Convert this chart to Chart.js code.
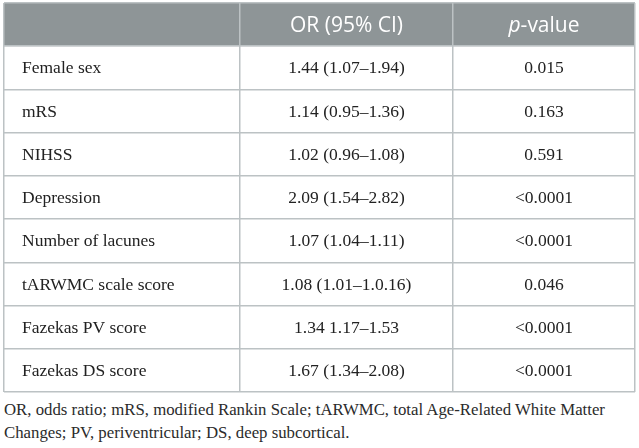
<!DOCTYPE html>
<html>
<head>
<meta charset="utf-8">
<script src="https://cdn.jsdelivr.net/npm/chart.js@4.4.0/dist/chart.umd.min.js"></script>
<style>
  html, body { margin: 0; padding: 0; background: #fff; }
  #wrap { position: relative; width: 639px; height: 396px; }
  #nota {
    position: absolute; left: 4px; top: 398px; width: 634px;
    font-family: "Liberation Serif", serif; font-size: 16.8px; line-height: 23px; color: #2b2b2b;
  }
</style>
</head>
<body>
<div id="wrap"><canvas id="tabela"></canvas></div>
<div id="nota">OR, odds ratio; mRS, modified Rankin Scale; tARWMC, total Age-Related White Matter Changes; PV, periventricular; DS, deep subcortical.</div>
<script>
// Dados da tabela
const cabecalhos = ["", "OR (95% CI)", "p-value"];
const variaveis = ["Female sex", "mRS", "NIHSS", "Depression", "Number of lacunes",
    "tARWMC scale score", "Fazekas PV score", "Fazekas DS score"];
const orIC = ["1.44 (1.07–1.94)", "1.14 (0.95–1.36)", "1.02 (0.96–1.08)", "2.09 (1.54–2.82)",
    "1.07 (1.04–1.11)", "1.08 (1.01–1.0.16)", "1.34 1.17–1.53", "1.67 (1.34–2.08)"];
const valoresP = ["0.015", "0.163", "0.591", "<0.0001", "<0.0001", "0.046", "<0.0001", "<0.0001"];

// Layout (larguras das colunas em px)
const bordasColunas = [0, 236, 449, 631];
const totalLinhas = variaveis.length + 1; // cabeçalho + linhas

const corCabecalho = "#8e9597";
const corGrade = "#bcc2c4";
const fonteCabecalho = "400 21px 'Open Sans', sans-serif";
const fonteCorpo = "17.5px 'Liberation Serif', serif";

const desenhaTabela = {
    id: "desenhaTabela",
    beforeDraw(chart) {
        const { ctx, chartArea, scales: { y } } = chart;
        ctx.save();
        ctx.fillStyle = corCabecalho;
        const topo = y.getPixelForValue(0);
        const base = y.getPixelForValue(1);
        ctx.fillRect(chartArea.left, topo, chartArea.right - chartArea.left, base - topo);
        ctx.restore();
    },
    afterDraw(chart) {
        const { ctx, scales: { x, y } } = chart;
        const centroColuna = i => (x.getPixelForValue(bordasColunas[i]) + x.getPixelForValue(bordasColunas[i + 1])) / 2;
        const centroLinha = r => y.getPixelForValue(r + 0.5);
        ctx.save();
        ctx.textBaseline = "middle";

        // Cabeçalho
        ctx.fillStyle = "#ffffff";
        ctx.font = fonteCabecalho;
        ctx.textAlign = "center";
        ctx.fillText(cabecalhos[1], centroColuna(1), centroLinha(0) + 1);
        // "p" em itálico + "-value"
        const parteItalica = cabecalhos[2].slice(0, 1);
        const resto = cabecalhos[2].slice(1);
        ctx.font = "italic " + fonteCabecalho;
        const larguraP = ctx.measureText(parteItalica).width;
        ctx.font = fonteCabecalho;
        const larguraResto = ctx.measureText(resto).width;
        const inicio = centroColuna(2) - (larguraP + larguraResto) / 2;
        ctx.textAlign = "left";
        ctx.font = "italic " + fonteCabecalho;
        ctx.fillText(parteItalica, inicio, centroLinha(0) + 1);
        ctx.font = fonteCabecalho;
        ctx.fillText(resto, inicio + larguraP, centroLinha(0) + 1);

        // Corpo
        ctx.fillStyle = "#222222";
        ctx.font = fonteCorpo;
        variaveis.forEach((nome, i) => {
            const yc = centroLinha(i + 1) + 1;
            ctx.textAlign = "left";
            ctx.fillText(nome, x.getPixelForValue(bordasColunas[0]) + 18, yc);
            ctx.textAlign = "center";
            ctx.fillText(orIC[i], centroColuna(1), yc);
            ctx.fillText(valoresP[i], centroColuna(2), yc);
        });
        ctx.restore();
    }
};

new Chart(document.getElementById("tabela"), {
    type: "scatter",
    data: { datasets: [{ data: [] }] },
    options: {
        responsive: true,
        maintainAspectRatio: false,
        animation: false,
        events: [],
        layout: { padding: { left: 4, right: 4, top: 3, bottom: 4 } },
        plugins: { legend: { display: false }, tooltip: { enabled: false } },
        scales: {
            x: {
                type: "linear",
                position: "top",
                min: bordasColunas[0],
                max: bordasColunas[bordasColunas.length - 1],
                afterBuildTicks: scale => { scale.ticks = bordasColunas.map(v => ({ value: v })); },
                ticks: { display: false },
                grid: { color: corGrade, lineWidth: 1.5, drawTicks: false },
                border: { display: false }
            },
            y: {
                type: "linear",
                reverse: true,
                min: 0,
                max: totalLinhas,
                afterBuildTicks: scale => {
                    scale.ticks = Array.from({ length: totalLinhas + 1 }, (_, i) => ({ value: i }));
                },
                ticks: { display: false },
                grid: { color: corGrade, lineWidth: 1.5, drawTicks: false },
                border: { display: false }
            }
        }
    },
    plugins: [desenhaTabela]
});
</script>
</body>
</html>
